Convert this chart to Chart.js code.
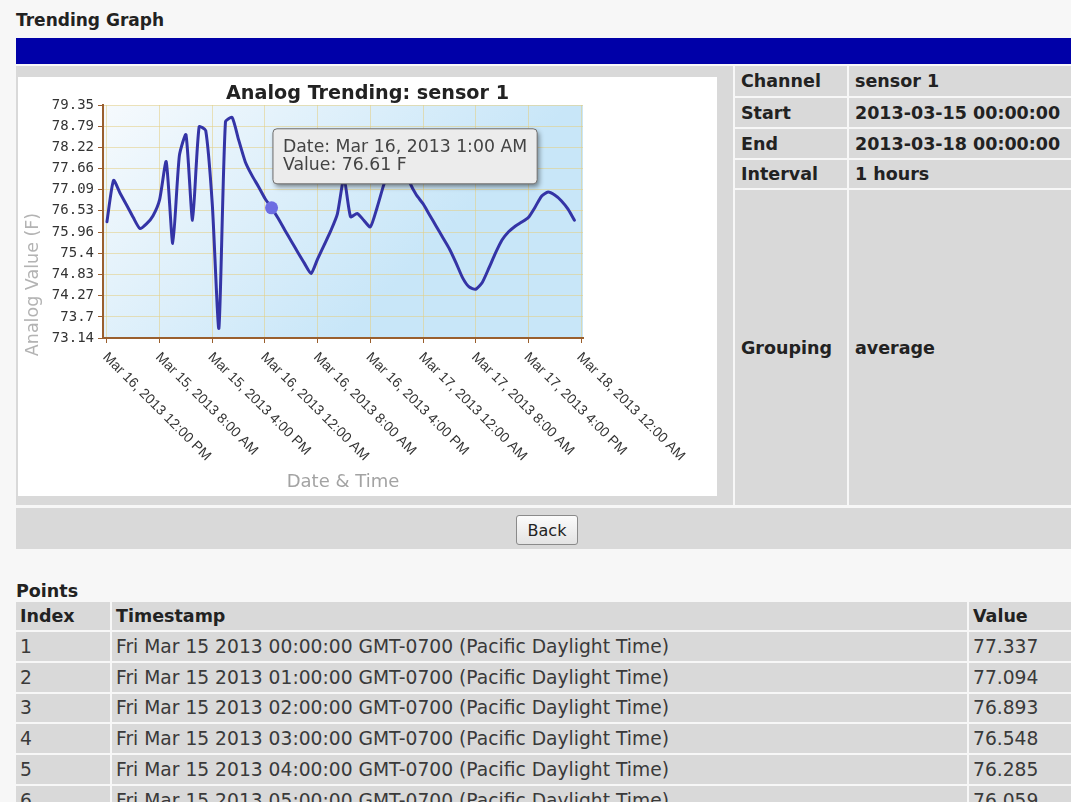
<!DOCTYPE html>
<html>
<head>
<meta charset="utf-8">
<title>Trending Graph</title>
<script src="https://cdn.jsdelivr.net/npm/chart.js@4.4.0/dist/chart.umd.min.js"></script>
<style>
  body {
    margin: 0;
    width: 1071px;
    height: 802px;
    overflow: hidden;
    position: relative;
    background: #f7f7f7;
    font-family: "DejaVu Sans", Verdana, sans-serif;
    color: #222;
  }
  .heading {
    position: absolute;
    left: 16px;
    top: 10px;
    font-size: 17px;
    font-weight: bold;
    line-height: 20px;
  }
  .bar {
    position: absolute;
    left: 16px;
    top: 38px;
    width: 1055px;
    height: 26px;
    background: #0000a8;
  }
  .cell {
    position: absolute;
    background: #d9d9d9;
    box-sizing: border-box;
    display: flex;
    align-items: center;
    padding-left: 6px;
    font-size: 17.5px;
    font-weight: bold;
  }
  #chart-box {
    position: absolute;
    left: 18px;
    top: 77px;
    width: 699px;
    height: 419px;
    background: #fff;
  }
  .back-row {
    position: absolute;
    left: 16px;
    top: 508px;
    width: 1055px;
    height: 41px;
    background: #d9d9d9;
  }
  .back-btn {
    position: absolute;
    left: 516px;
    top: 515px;
    width: 62px;
    height: 30px;
    box-sizing: border-box;
    border: 1px solid #8a8a8a;
    border-radius: 3px;
    background: linear-gradient(#fbfbfb, #e3e3e3);
    font-family: "DejaVu Sans", sans-serif;
    font-size: 16px;
    color: #222;
    padding: 0;
  }
  .points-title {
    position: absolute;
    left: 16px;
    top: 581px;
    font-size: 17.5px;
    font-weight: bold;
    line-height: 20px;
  }
  #points {
    position: absolute;
    left: 14px;
    top: 600px;
    width: 1059px;
    border-collapse: separate;
    border-spacing: 2px;
    color: #3a3a3a;
  }
  #points th, #points td {
    background: #d9d9d9;
    text-align: left;
    padding: 0 0 0 4px;
    white-space: nowrap;
  }
  #points th { height: 28px; color: #222; font-size: 17.5px; }
  #points td { height: 28.8px; font-size: 18.7px; }
</style>
</head>
<body>
<div class="heading">Trending Graph</div>
<div class="bar"></div>

<div class="cell" style="left:16px; top:66px; width:717px; height:439px;"></div>
<div id="chart-box"><canvas id="trend-chart" width="699" height="419"></canvas></div>

<div class="cell" style="left:735px; top:66px; width:112px; height:30px;">Channel</div>
<div class="cell" style="left:849px; top:66px; width:222px; height:30px;">sensor 1</div>
<div class="cell" style="left:735px; top:98px; width:112px; height:29px;">Start</div>
<div class="cell" style="left:849px; top:98px; width:222px; height:29px;">2013-03-15 00:00:00</div>
<div class="cell" style="left:735px; top:129px; width:112px; height:29px;">End</div>
<div class="cell" style="left:849px; top:129px; width:222px; height:29px;">2013-03-18 00:00:00</div>
<div class="cell" style="left:735px; top:160px; width:112px; height:28px;">Interval</div>
<div class="cell" style="left:849px; top:160px; width:222px; height:28px;">1 hours</div>
<div class="cell" style="left:735px; top:190px; width:112px; height:315px;">Grouping</div>
<div class="cell" style="left:849px; top:190px; width:222px; height:315px;">average</div>

<div class="back-row"></div>
<button class="back-btn">Back</button>

<div class="points-title">Points</div>
<table id="points">
  <thead>
    <tr><th style="width:90px;">Index</th><th>Timestamp</th><th style="width:98px;">Value</th></tr>
  </thead>
  <tbody></tbody>
</table>

<script>
// Hourly averages for sensor 1, starting Mar 15 2013 00:00
const readings = [
    76.24, 77.34, 77.00, 76.68, 76.35, 76.06, 76.18, 76.40, 76.83, 77.84,
    75.66, 78.00, 78.56, 76.28, 78.77, 78.67, 76.70, 73.40, 78.90, 79.02,
    78.42, 77.84, 77.48, 77.18, 76.86, 76.61, 76.33, 76.02, 75.72, 75.42,
    75.13, 74.86, 75.25, 75.62, 76.00, 76.45, 77.40, 76.37, 76.46, 76.28,
    76.10, 76.60, 77.20, 77.70, 78.00, 77.80, 77.28, 76.95, 76.72, 76.42,
    76.12, 75.82, 75.52, 75.15, 74.75, 74.50, 74.44, 74.62, 75.00, 75.40,
    75.75, 75.97, 76.12, 76.23, 76.35, 76.62, 76.92, 77.03, 76.95, 76.80,
    76.58, 76.28
];

// X axis ticks, every 8 hours
const xTickHours = [0, 8, 16, 24, 32, 40, 48, 56, 64, 72];
const xTickLabels = [
    'Mar 16, 2013 12:00 PM',
    'Mar 15, 2013 8:00 AM',
    'Mar 15, 2013 4:00 PM',
    'Mar 16, 2013 12:00 AM',
    'Mar 16, 2013 8:00 AM',
    'Mar 16, 2013 4:00 PM',
    'Mar 17, 2013 12:00 AM',
    'Mar 17, 2013 8:00 AM',
    'Mar 17, 2013 4:00 PM',
    'Mar 18, 2013 12:00 AM'
];

// Y axis ticks
const yTickValues = [73.14, 73.7, 74.27, 74.83, 75.4, 75.96, 76.53, 77.09, 77.66, 78.22, 78.79, 79.35];

// Point shown in the tooltip
const highlightIndex = 25;

// Rows of the points table
const pointIndex = [1, 2, 3, 4, 5, 6];
const pointTimestamps = [
    'Fri Mar 15 2013 00:00:00 GMT-0700 (Pacific Daylight Time)',
    'Fri Mar 15 2013 01:00:00 GMT-0700 (Pacific Daylight Time)',
    'Fri Mar 15 2013 02:00:00 GMT-0700 (Pacific Daylight Time)',
    'Fri Mar 15 2013 03:00:00 GMT-0700 (Pacific Daylight Time)',
    'Fri Mar 15 2013 04:00:00 GMT-0700 (Pacific Daylight Time)',
    'Fri Mar 15 2013 05:00:00 GMT-0700 (Pacific Daylight Time)'
];
const pointValues = ['77.337', '77.094', '76.893', '76.548', '76.285', '76.059'];

const hours = readings.map((_, i) => i);
const axisColor = '#9a5f2e';
const gridColor = 'rgba(228, 206, 130, 0.55)';

// Format an hour offset as a date label
function hourLabel(h) {
    const day = 15 + Math.floor(h / 24);
    const hr = h % 24;
    const h12 = hr % 12 === 0 ? 12 : hr % 12;
    return `Mar ${day}, 2013 ${h12}:00 ${hr < 12 ? 'AM' : 'PM'}`;
}

// Fill the points table
const tbody = document.querySelector('#points tbody');
pointIndex.forEach((idx, i) => {
    const tr = document.createElement('tr');
    [idx, pointTimestamps[i], pointValues[i]].forEach(text => {
        const td = document.createElement('td');
        td.textContent = text;
        tr.appendChild(td);
    });
    tbody.appendChild(tr);
});

// Tooltip sits just above and to the right of the point
Chart.Tooltip.positioners.abovePoint = function(items) {
    if (!items.length) return false;
    const el = items[0].element;
    return { x: el.x + 5.4, y: el.y - 24 };
};

// Plot background, title, rotated date labels and the value axis title
const chartDecor = {
    id: 'chartDecor',
    beforeDraw(chart) {
        const { ctx, chartArea: a } = chart;
        const grad = ctx.createLinearGradient(a.left, a.top, a.left + a.width * 0.5, a.bottom);
        grad.addColorStop(0, '#f6fafd');
        grad.addColorStop(1, '#c8e6f8');
        ctx.save();
        ctx.fillStyle = grad;
        ctx.fillRect(a.left, a.top, a.width, a.height);
        ctx.restore();
    },
    afterDraw(chart) {
        const { ctx, chartArea: a } = chart;
        const xScale = chart.scales.x;
        ctx.save();

        ctx.fillStyle = '#222';
        ctx.font = 'bold 19.2px "DejaVu Sans"';
        ctx.textAlign = 'center';
        ctx.textBaseline = 'middle';
        ctx.fillText('Analog Trending: sensor 1', chart.width / 2, 17);

        ctx.fillStyle = '#333';
        ctx.font = '14px "Liberation Sans"';
        ctx.textAlign = 'left';
        xTickHours.forEach((h, i) => {
            const px = xScale.getPixelForValue(h);
            ctx.save();
            ctx.translate(px - 2, a.bottom + 17);
            ctx.rotate(Math.PI / 4);
            ctx.fillText(xTickLabels[i], 0, 0);
            ctx.restore();
        });

        ctx.fillStyle = '#b3b3b3';
        ctx.font = '17.5px "DejaVu Sans"';
        ctx.textAlign = 'center';
        ctx.translate(15, 207.5);
        ctx.rotate(-Math.PI / 2);
        ctx.fillText('Analog Value (F)', 0, 0);
        ctx.restore();
    },
    beforeTooltipDraw(chart, args) {
        const t = args.tooltip;
        const { ctx } = chart;
        ctx.save();
        ctx.shadowColor = 'rgba(0, 0, 0, 0.45)';
        ctx.shadowBlur = 5;
        ctx.shadowOffsetX = 2;
        ctx.shadowOffsetY = 3;
        ctx.fillStyle = '#e6e6e6';
        ctx.beginPath();
        ctx.roundRect(t.x, t.y, t.width, t.height, 4);
        ctx.fill();
        ctx.restore();
    }
};

const chart = new Chart(document.getElementById('trend-chart'), {
    type: 'line',
    data: {
        labels: hours,
        datasets: [{
            label: 'sensor 1',
            data: readings,
            borderColor: '#3434a6',
            borderWidth: 3,
            borderJoinStyle: 'round',
            borderCapStyle: 'round',
            tension: 0.2,
            fill: false,
            pointRadius: 0,
            pointHoverRadius: 6.5,
            pointHoverBackgroundColor: '#6d6de2',
            pointHoverBorderColor: '#6d6de2',
            pointHoverBorderWidth: 0
        }]
    },
    options: {
        responsive: false,
        animation: false,
        events: [],
        layout: {
            padding: { top: 28, right: 134, bottom: 0, left: 0 }
        },
        scales: {
            x: {
                type: 'linear',
                min: -0.6,
                max: 72.3,
                afterBuildTicks: scale => {
                    scale.ticks = xTickHours.map(v => ({ value: v }));
                },
                afterFit: scale => {
                    scale.height = 158;
                },
                ticks: { display: false },
                grid: { color: gridColor, tickColor: axisColor, tickLength: 5 },
                border: { color: axisColor, width: 2 },
                title: {
                    display: true,
                    text: 'Date & Time',
                    color: '#a3a3a3',
                    font: { family: 'DejaVu Sans', size: 18 },
                    padding: { top: 0, bottom: 3.2 }
                }
            },
            y: {
                min: 73.14,
                max: 79.35,
                afterBuildTicks: scale => {
                    scale.ticks = yTickValues.map(v => ({ value: v }));
                },
                afterFit: scale => {
                    scale.width = 85;
                },
                ticks: {
                    color: '#333',
                    padding: 4,
                    font: { family: 'DejaVu Sans Mono', size: 14 },
                    callback: v => String(v)
                },
                grid: { color: gridColor, tickColor: axisColor, tickLength: 5 },
                border: { color: axisColor, width: 2 }
            }
        },
        plugins: {
            legend: { display: false },
            title: { display: false },
            tooltip: {
                position: 'abovePoint',
                xAlign: 'left',
                yAlign: 'bottom',
                caretSize: 0,
                caretPadding: 0,
                cornerRadius: 4,
                backgroundColor: '#ececec',
                borderColor: '#6d6d6d',
                borderWidth: 1,
                bodyColor: '#444',
                bodyFont: { family: 'DejaVu Sans', size: 17.3, lineHeight: 1.07 },
                bodySpacing: 0,
                padding: { left: 10, right: 10, top: 9, bottom: 9 },
                displayColors: false,
                callbacks: {
                    title: () => '',
                    label: ctx => [
                        `Date: ${hourLabel(ctx.parsed.x)}`,
                        `Value: ${ctx.parsed.y.toFixed(2)} F`
                    ]
                }
            }
        }
    },
    plugins: [chartDecor]
});

// Show the tooltip on the highlighted reading
const active = [{ datasetIndex: 0, index: highlightIndex }];
chart.setActiveElements(active);
chart.tooltip.setActiveElements(active, { x: 0, y: 0 });
chart.update();
</script>
</body>
</html>
